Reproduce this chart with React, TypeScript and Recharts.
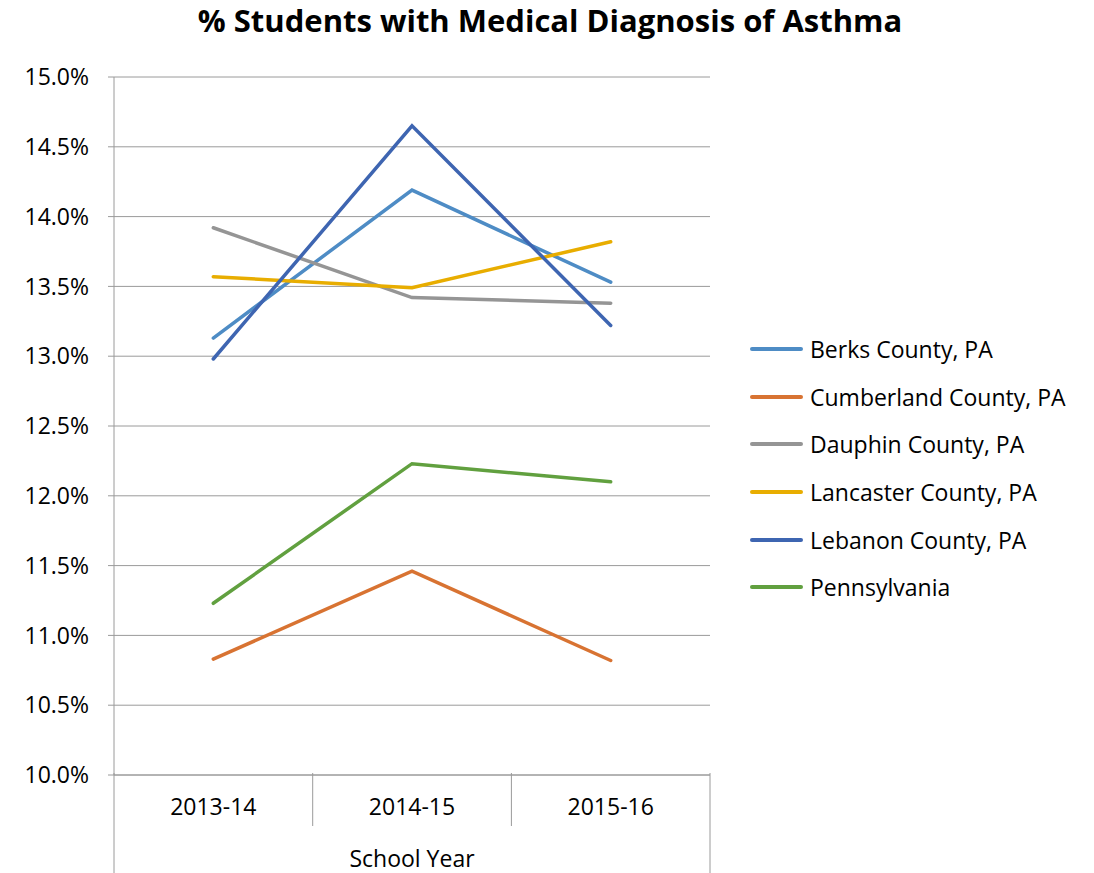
import { CartesianGrid, Line, LineChart, XAxis, YAxis } from 'recharts'

const years = ['2013-14', '2014-15', '2015-16']

const berks = [13.13, 14.19, 13.53]
const cumberland = [10.83, 11.46, 10.82]
const dauphin = [13.92, 13.42, 13.38]
const lancaster = [13.57, 13.49, 13.82]
const lebanon = [12.98, 14.65, 13.22]
const pennsylvania = [11.23, 12.23, 12.1]

const yTicks = [10, 10.5, 11, 11.5, 12, 12.5, 13, 13.5, 14, 14.5, 15]

const series = [
  { key: 'berks', name: 'Berks County, PA', color: '#4E8CC5', values: berks },
  { key: 'cumberland', name: 'Cumberland County, PA', color: '#D87332', values: cumberland },
  { key: 'dauphin', name: 'Dauphin County, PA', color: '#959595', values: dauphin },
  { key: 'lancaster', name: 'Lancaster County, PA', color: '#E8AD00', values: lancaster },
  { key: 'lebanon', name: 'Lebanon County, PA', color: '#3E65B1', values: lebanon },
  { key: 'pennsylvania', name: 'Pennsylvania', color: '#61A03F', values: pennsylvania },
]

const data = years.map((year, i) => {
  const row: Record<string, string | number> = { year }
  series.forEach((s) => {
    row[s.key] = s.values[i]
  })
  return row
})

const FONT = '"Open Sans", sans-serif'
const AXIS = '#9A9A9A'
const HALF_BAND = 99.3

const YearTick = (props: any) => {
  const { x, y, payload, index } = props
  const top = y - 10 // tick y sits a bit below the axis line
  const last = index === years.length - 1
  return (
    <g>
      <line x1={x - HALF_BAND} y1={top} x2={x - HALF_BAND} y2={index === 0 ? 873 : top + 53} stroke={AXIS} />
      {last && <line x1={x + HALF_BAND} y1={top} x2={x + HALF_BAND} y2={873} stroke={AXIS} />}
      <text x={x} y={top + 42} textAnchor="middle" fontSize={23} fill="#000" fontFamily={FONT}>
        {payload.value}
      </text>
      {index === 1 && (
        <text x={x} y={top + 94} textAnchor="middle" fontSize={23} fill="#000" fontFamily={FONT}>
          School Year
        </text>
      )}
    </g>
  )
}

// legend sits outside the chart so it doesn't eat plot space
const LegendList = () => (
  <div style={{ position: 'absolute', left: 750, top: 325, fontFamily: FONT, fontSize: 23, color: '#000' }}>
    {series.map((s) => (
      <div key={s.key} style={{ display: 'flex', alignItems: 'center', height: 47.7 }}>
        <div style={{ width: 53, height: 4, background: s.color, borderRadius: 2, marginRight: 7 }} />
        <span>{s.name}</span>
      </div>
    ))}
  </div>
)

export default function App() {
  return (
    <div style={{ position: 'absolute', left: 0, top: 0, width: 1094, height: 873, background: '#fff' }}>
      <div
        style={{
          position: 'absolute',
          top: -1,
          left: 0,
          width: 1100,
          textAlign: 'center',
          fontFamily: FONT,
          fontWeight: 'bold',
          fontSize: 31,
          color: '#000',
        }}
      >
        % Students with Medical Diagnosis of Asthma
      </div>
      <LineChart width={1094} height={873} data={data} margin={{ top: 77, right: 384, bottom: 0, left: 0 }}>
        <CartesianGrid horizontal vertical={false} stroke={AXIS} strokeWidth={1} />
        <XAxis
          dataKey="year"
          height={98}
          padding={{ left: HALF_BAND, right: HALF_BAND }}
          axisLine={{ stroke: AXIS }}
          tickLine={false}
          tick={<YearTick />}
          interval={0}
        />
        <YAxis
          width={114}
          domain={[10, 15]}
          ticks={yTicks}
          interval={0}
          tickFormatter={(v: number) => v.toFixed(1) + '%'}
          axisLine={{ stroke: AXIS }}
          tickLine={{ stroke: AXIS }}
          tickSize={6}
          tickMargin={19}
          tick={{ fontSize: 23, fill: '#000', fontFamily: FONT }}
        />
        {series.map((s) => (
          <Line
            key={s.key}
            type="linear"
            dataKey={s.key}
            name={s.name}
            stroke={s.color}
            strokeWidth={3.5}
            strokeLinecap="round"
            dot={false}
            isAnimationActive={false}
          />
        ))}
      </LineChart>
      <LegendList />
    </div>
  )
}
